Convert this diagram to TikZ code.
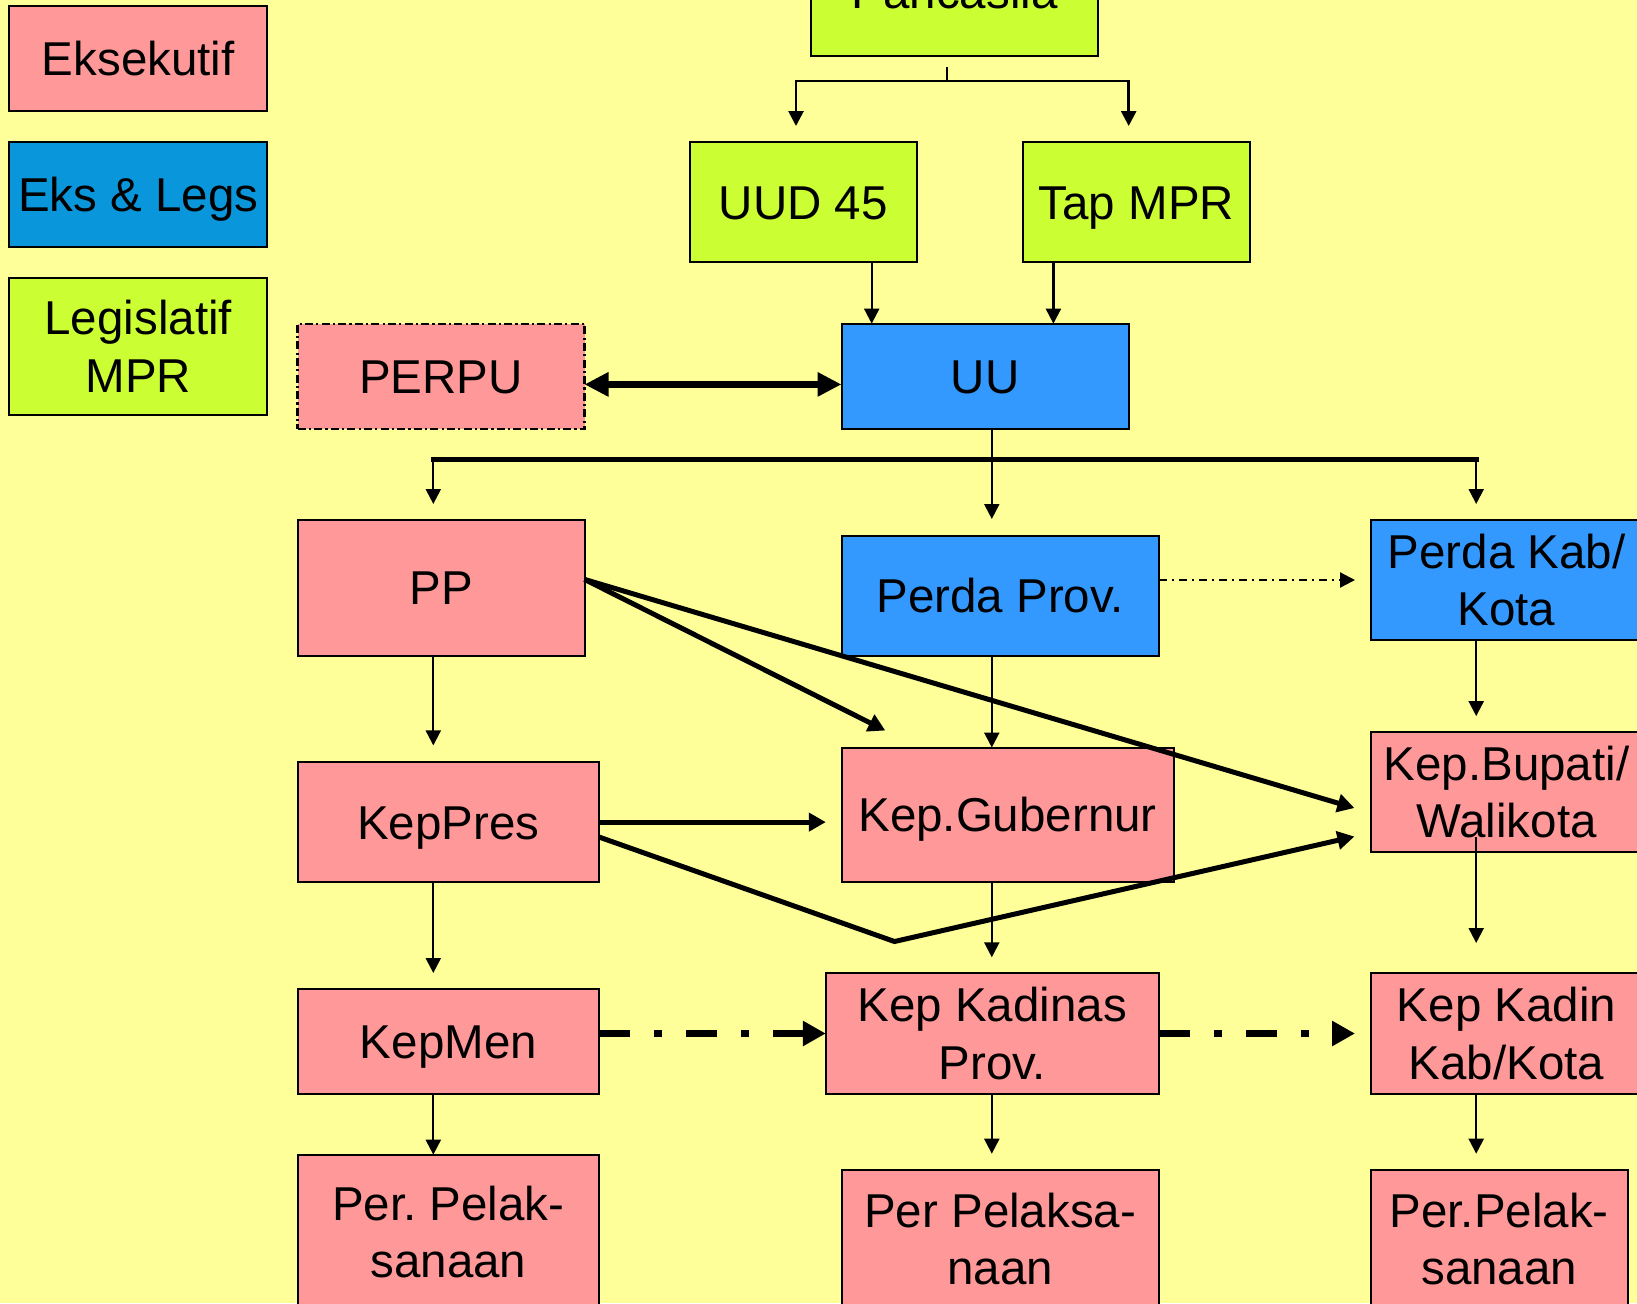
\documentclass[tikz,border=0pt]{standalone}
\usepackage{fontspec}
\setmainfont{Liberation Sans}
\usetikzlibrary{arrows.meta,calc}
\definecolor{bgY}{HTML}{FFFF99}
\definecolor{pinkC}{HTML}{FF9999}
\definecolor{blueC}{HTML}{3399FF}
\definecolor{legBlue}{HTML}{0A96DA}
\definecolor{greenC}{HTML}{CCFF33}
\frenchspacing
\begin{document}
\begin{tikzpicture}[x=0.5pt,y=-0.5pt,
  box/.style={draw=black, line width=1pt, inner sep=0pt, outer sep=0pt,
    font=\fontsize{23.75pt}{28.7pt}\selectfont, align=center},
  one/.style={text height=17pt, text depth=0pt},
  sz/.style 2 args={minimum width=#1*0.5pt, minimum height=#2*0.5pt},
  pinkbox/.style={box, fill=pinkC},
  bluebox/.style={box, fill=blueC},
  greenbox/.style={box, fill=greenC},
  perpuborder/.style={line width=1.1pt, dash pattern=on 4pt off 1.6pt on 1.1pt off 1.6pt},
  thinarr/.style={line width=1.1pt, -{Triangle[length=7.5pt,width=7.5pt]}},
  thickarr/.style={line width=2.5pt, -{Triangle[length=8.5pt,width=9pt]}},
  dblarr/.style={line width=3.8pt, {Triangle[length=12pt,width=11.5pt]}-{Triangle[length=12pt,width=11.5pt]}},
  ddarr/.style={line width=3.5pt, dash pattern=on 15.5pt off 12pt on 4pt off 12pt, -{Triangle[length=11.5pt,width=12pt]}},
  thindd/.style={dash pattern=on 4pt off 2.5pt on 1pt off 2.5pt}
]
\useasboundingbox (0,0) rectangle (1637,1303);
\clip (0,0) rectangle (1637,1303);
\fill[bgY] (0,0) rectangle (1637,1303);

% legend
\node[pinkbox, one, sz={258}{104.4}] (leg1) at (138.3,58.5) {Eksekutif};
\node[box, one, fill=legBlue, sz={258}{105.4}] (leg2) at (138.3,194.7) {Eks \& Legs};
\node[greenbox, sz={258}{136.8}] (leg3) at (138.3,346.1) {Legislatif\\MPR};

% top
\node[greenbox, one, sz={287.3}{130.2}] (panc) at (954.6,-8.7) {Pancasila};
\node[greenbox, one, sz={226.6}{120}] (uud) at (803.3,202) {UUD 45};
\node[greenbox, one, sz={226.6}{120}] (tap) at (1136.4,202) {Tap MPR};
\node[pinkbox, one, perpuborder, sz={287}{105.5}] (perpu) at (441,376.4) {PERPU};
\node[bluebox, one, sz={287}{105.5}] (uu) at (985,376.4) {UU};

% row PP
\node[pinkbox, one, sz={287}{135.6}] (pp) at (441,587.8) {PP};
\node[bluebox, one, sz={317.3}{120}] (pprov) at (1000.2,595.6) {Perda Prov.};
\node[bluebox, sz={271.4}{120}] (pkab) at (1506.5,580) {Perda Kab/\\Kota};

% row KepPres
\node[pinkbox, one, sz={301.8}{120.2}] (keppres) at (448.4,822.1) {KepPres};
\node[pinkbox, one, sz={332}{134.7}] (gub) at (1007.5,814.9) {Kep.Gubernur};
\node[pinkbox, sz={271.4}{120}] (bup) at (1506.5,791.9) {Kep.Bupati/\\Walikota};

% row KepMen
\node[pinkbox, one, sz={301.8}{105.4}] (kepmen) at (448.4,1041.4) {KepMen};
\node[pinkbox, sz={333}{121}] (kadinas) at (992.3,1033.5) {Kep Kadinas\\Prov.};
\node[pinkbox, sz={271.4}{121}] (kadin) at (1506.5,1033.5) {Kep Kadin\\Kab/Kota};

% bottom row
\node[pinkbox, sz={301.8}{154.6}] (perA) at (448.4,1232) {Per. Pelak-\\sanaan};
\node[pinkbox, sz={317.3}{136.8}] (perB) at (1000.2,1238.7) {Per Pelaksa-\\naan};
\node[pinkbox, sz={256.8}{136.8}] (perC) at (1499.2,1238.7) {Per.Pelak-\\sanaan};

% helper coordinates
\coordinate (cA) at (433.3,0);
\coordinate (cB) at (991.8,0);
\coordinate (cC) at (1476.2,0);
\coordinate (tL) at (796,0);
\coordinate (tR) at (1128.7,0);
\coordinate (pstub) at (947,66.7);
\coordinate (pj) at (947,81);
\coordinate (hb) at (0,459.5);
\coordinate (cU1) at (871.7,0);
\coordinate (cU2) at (1053.4,0);
\coordinate (gubtip) at (885.3,730.5);
\coordinate (buptipA) at (1354.4,808);
\coordinate (vtx) at (894.5,941.5);
\coordinate (buptipB) at (1354.4,836.5);

% Pancasila tree
\draw[line width=1pt] (pstub) -- (pj);
\draw[line width=1.35pt, line join=miter,
  {Triangle[length=7.5pt,width=7.5pt]}-{Triangle[length=7.5pt,width=7.5pt]},
  shorten <=8pt, shorten >=8pt]
  (tL |- uud.north) -- (tL |- pj) -- (tR |- pj) -- (tR |- tap.north);

% into UU
\draw[thinarr] (uud.south -| cU1) -- (uu.north -| cU1);
\draw[thinarr] (tap.south -| cU2) -- (uu.north -| cU2);
\draw[dblarr] ($(perpu.east)+(0,8)$) -- ($(uu.west)+(0,8)$);

% UU branches
\draw[line width=2.65pt, line cap=rect] (cA |- hb) -- (cC |- hb);
\draw[thinarr, shorten >=8.3pt] (uu.south -| cB) -- (pprov.north -| cB);
\draw[thinarr, shorten >=8pt] (cA |- hb) -- (cA |- pp.north);
\draw[thinarr, shorten >=8pt] (cC |- hb) -- (cC |- pkab.north);

% Perda Prov -> Perda Kab
\draw[thinarr, thindd, shorten >=7.9pt] (pprov.east |- pkab.west) -- (pkab.west);

% column A
\draw[thinarr, shorten >=8.3pt] (pp.south -| cA) -- (keppres.north -| cA);
\draw[thinarr, shorten >=7.85pt] (keppres.south -| cA) -- (kepmen.north -| cA);
\draw[thinarr] (kepmen.south -| cA) -- (perA.north -| cA);

% column B
\draw[thinarr] (pprov.south -| cB) -- (gub.north -| cB);
\draw[thinarr, shorten >=7.85pt] (gub.south -| cB) -- (kadinas.north -| cB);
\draw[thinarr, shorten >=8.3pt] (kadinas.south -| cB) -- (perB.north -| cB);

% column C
\draw[thinarr, shorten >=7.9pt] (pkab.south -| cC) -- (bup.north -| cC);
\draw[thinarr, shorten >=15pt] ($(bup.south -| cC)+(0,-15.2)$) -- (kadin.north -| cC);
\draw[thinarr, shorten >=8.3pt] (kadin.south -| cC) -- (perC.north -| cC);

% PP diagonals
\draw[thickarr] ($(pp.east)+(0,-8.4)$) -- (gubtip);
\draw[thickarr] ($(pp.east)+(0,-8.4)$) -- (buptipA);

% KepPres arrows
\draw[thickarr, shorten >=7.85pt] (keppres.east) -- (gub.west |- keppres.east);
\draw[thickarr] ($(keppres.east)+(0,15)$) -- (vtx) -- (buptipB);

% dash-dot thick arrows
\draw[ddarr] (kepmen.east |- kadinas.west) -- (kadinas.west);
\draw[ddarr, shorten >=7.9pt] (kadinas.east) -- (kadin.west);
\end{tikzpicture}
\end{document}
